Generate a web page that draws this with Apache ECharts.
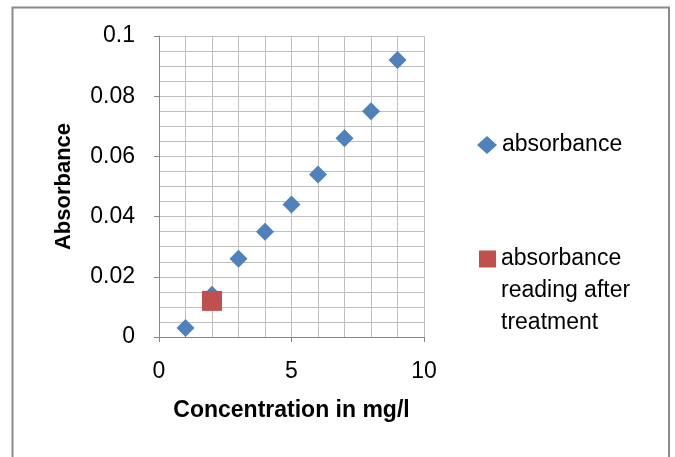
<!DOCTYPE html>
<html><head><meta charset="utf-8">
<script src="https://cdn.jsdelivr.net/npm/echarts@6/dist/echarts.min.js"></script>
<style>html,body{margin:0;padding:0;background:#fff}#c{width:675px;height:457px}</style>
</head><body><div id="c"></div>
<script>
const concentration = [1, 2, 3, 4, 5, 6, 7, 8, 9];
const absorbance = [0.003, 0.014, 0.026, 0.035, 0.044, 0.054, 0.066, 0.075, 0.092];
const treatedConcentration = [2];
const treatedAbsorbance = [0.012];
const seriesNames = ['absorbance', 'absorbance reading after treatment'];
const legendLabels = ['absorbance', ' \n \nabsorbance\nreading after\ntreatment'];
const xAxisTitle = 'Concentration in mg/l';
const yAxisTitle = 'Absorbance';

const FONT = 'Liberation Sans';
const chart = echarts.init(document.getElementById('c'));
const axisCommon = {
  axisLine: { show: true, onZero: false, lineStyle: { color: '#868686', width: 1 } },
  axisTick: { show: true, inside: false, length: 5, lineStyle: { color: '#868686' } },
  splitLine: { show: true, lineStyle: { color: '#BFBFBF', width: 1 } },
  minorSplitLine: { show: true, lineStyle: { color: '#BFBFBF', width: 1 } }
};
chart.setOption({
  animation: false,
  backgroundColor: '#fff',
  graphic: [{
    type: 'rect', silent: true, z: -10,
    shape: { x: 12.5, y: 7.5, width: 656.5, height: 480 },
    style: { fill: 'none', stroke: '#898989', lineWidth: 2 }
  }],
  grid: { left: 159, right: 251, top: 36, bottom: 120 },
  xAxis: Object.assign({}, axisCommon, {
    type: 'value', min: 0, max: 10, interval: 5,
    minorTick: { show: false, splitNumber: 5 },
    name: xAxisTitle, nameLocation: 'middle', nameGap: 62,
    nameTextStyle: { fontFamily: FONT, fontWeight: 'bold', fontSize: 23, color: '#000' },
    axisLabel: { fontFamily: FONT, fontSize: 23, color: '#000', margin: 23 }
  }),
  yAxis: Object.assign({}, axisCommon, {
    type: 'value', min: 0, max: 0.1, interval: 0.02,
    minorTick: { show: false, splitNumber: 4 },
    name: yAxisTitle, nameLocation: 'middle', nameGap: 84, nameRotate: 90,
    nameTextStyle: { fontFamily: FONT, fontWeight: 'bold', fontSize: 22, color: '#000' },
    axisLabel: { fontFamily: FONT, fontSize: 23, color: '#000', margin: 24 }
  }),
  legend: [{
    data: [seriesNames[0]], left: 477, top: 129, padding: 0,
    itemWidth: 20, itemHeight: 18, itemGap: 0,
    formatter: () => legendLabels[0],
    textStyle: { fontFamily: FONT, fontSize: 23, color: '#000', lineHeight: 32 }
  }, {
    data: [seriesNames[1]], left: 479, top: 179, padding: 0,
    itemWidth: 17, itemHeight: 17, itemGap: 0,
    formatter: () => legendLabels[1],
    textStyle: { fontFamily: FONT, fontSize: 23, color: '#000', lineHeight: 32 }
  }],
  series: [{
    name: seriesNames[0], type: 'scatter', symbol: 'diamond', symbolSize: 18,
    itemStyle: { color: '#4F81BD', opacity: 1 },
    data: concentration.map((c, i) => [c, absorbance[i]])
  }, {
    name: seriesNames[1], type: 'scatter', symbol: 'rect', symbolSize: 20,
    itemStyle: { color: '#C0504D', opacity: 1 },
    data: treatedConcentration.map((c, i) => [c, treatedAbsorbance[i]])
  }]
});
</script></body></html>
